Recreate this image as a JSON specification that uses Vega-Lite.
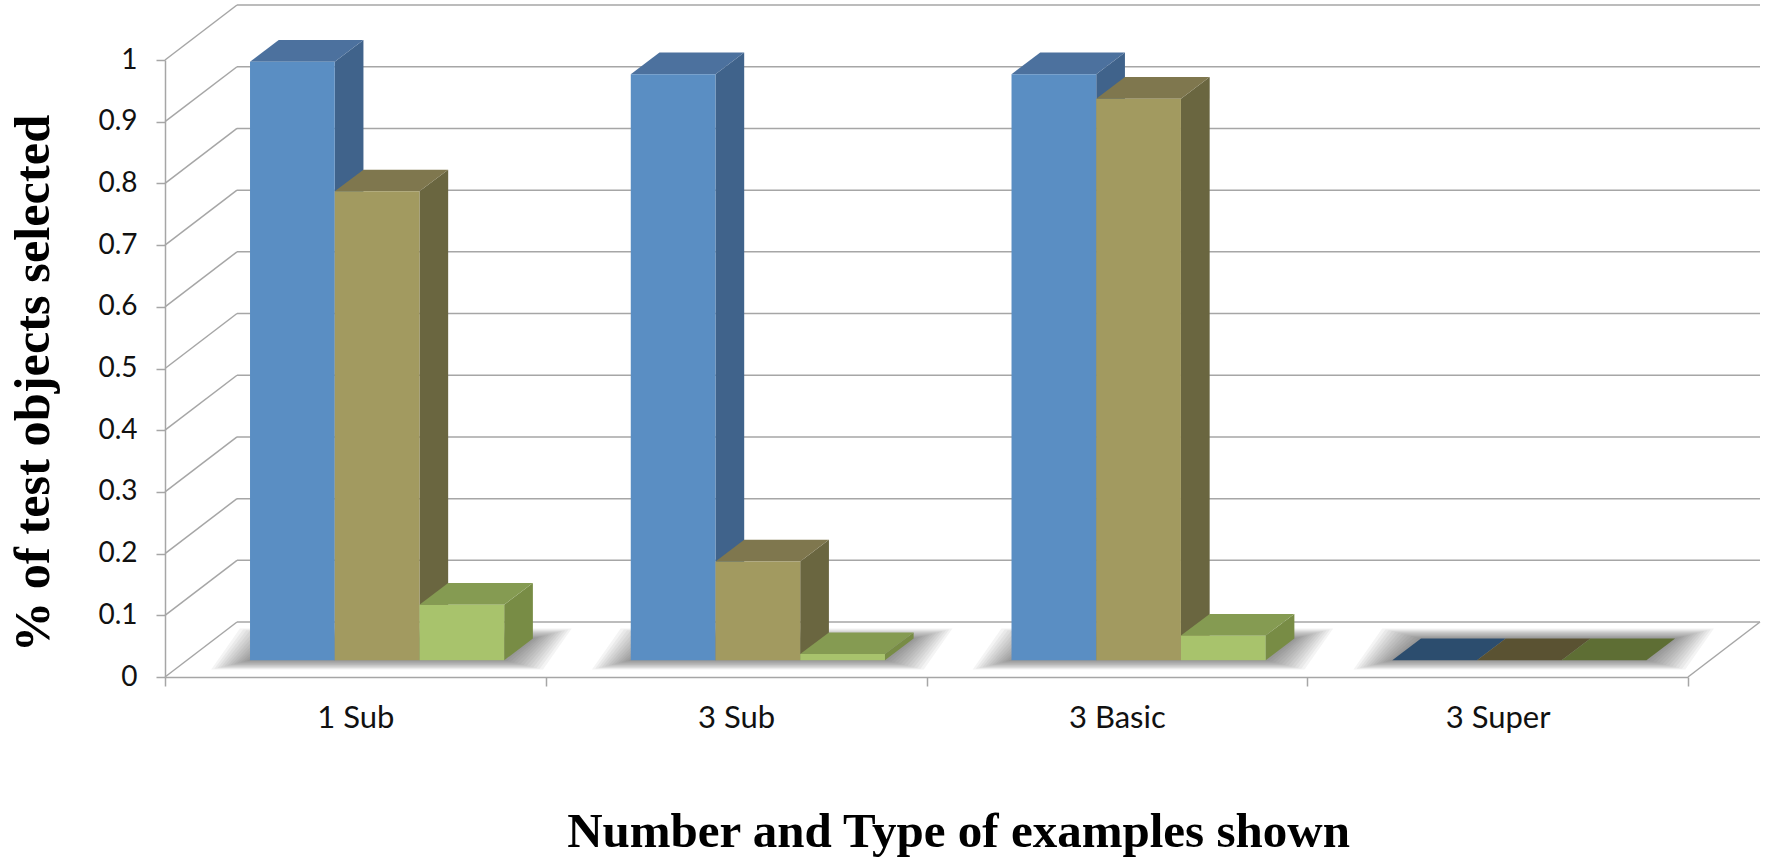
{
  "$schema": "https://vega.github.io/schema/vega-lite/v6.json",
  "autosize": {"type": "none"},
  "padding": {"left": 165, "top": 60, "right": 81, "bottom": 180},
  "width": 1523,
  "height": 617,
  "background": "white",
  "config": {"view": {"stroke": null}},
  "layer": [
    {
      "data": {"values": [{"v": 0}, {"v": 0.1}, {"v": 0.2}, {"v": 0.3}, {"v": 0.4}, {"v": 0.5}, {"v": 0.6}, {"v": 0.7}, {"v": 0.8}, {"v": 0.9}, {"v": 1}]},
      "transform": [
        {"calculate": "0", "as": "x0"},
        {"calculate": "0.1891", "as": "x1"},
        {"calculate": "datum.v + 0.0891", "as": "y1"}
      ],
      "mark": {"type": "rule", "color": "#a6a6a6", "strokeWidth": 1.5},
      "encoding": {
        "x": {
          "field": "x0", "type": "quantitative",
          "scale": {"domain": [0, 4], "nice": false, "zero": false},
          "axis": {
            "values": [0, 1, 2, 3, 4],
            "labelExpr": "datum.value < 4 ? ['1 Sub', '3 Sub', '3 Basic', '3 Super'][datum.value] : ''",
            "labelOffset": 190.35, "labelFlush": false, "labelBound": false, "labelOverlap": false,
            "labelFont": "Lato", "labelFontSize": 31, "labelColor": "#111111", "labelPadding": 17,
            "grid": false, "tickSize": 9, "tickColor": "#a6a6a6", "tickWidth": 1.5,
            "domainColor": "#a6a6a6", "domainWidth": 1.5,
            "title": "Number and Type of examples shown",
            "titleFont": "Liberation Serif", "titleFontSize": 49, "titleFontWeight": "bold", "titleColor": "black",
            "titleX": 793, "titleY": 169, "titleAnchor": "middle", "titleAlign": "center", "titleBaseline": "alphabetic"
          }
        },
        "x2": {"field": "x1"},
        "y": {
          "field": "v", "type": "quantitative",
          "scale": {"domain": [0, 1], "nice": false, "zero": false},
          "axis": {
            "values": [0, 0.1, 0.2, 0.3, 0.4, 0.5, 0.6, 0.7, 0.8, 0.9, 1],
            "format": ".1~f",
            "labelFont": "Lato", "labelFontSize": 28, "labelColor": "#111111", "labelPadding": 19,
            "grid": false, "tickSize": 9, "tickColor": "#a6a6a6", "tickWidth": 1.5,
            "domainColor": "#a6a6a6", "domainWidth": 1.5,
            "title": "% of test objects selected",
            "titleFont": "Liberation Serif", "titleFontSize": 50.4, "titleFontWeight": "bold", "titleColor": "black",
            "titleX": -117, "titleY": 323, "titleAngle": -90, "titleAnchor": "middle", "titleAlign": "center", "titleBaseline": "alphabetic"
          }
        },
        "y2": {"field": "y1"}
      }
    },
    {
      "data": {"values": [{"v": 0}, {"v": 0.1}, {"v": 0.2}, {"v": 0.3}, {"v": 0.4}, {"v": 0.5}, {"v": 0.6}, {"v": 0.7}, {"v": 0.8}, {"v": 0.9}, {"v": 1}]},
      "transform": [
        {"calculate": "0.1891", "as": "x0"},
        {"calculate": "4.1891", "as": "x1"},
        {"calculate": "datum.v + 0.0891", "as": "y0"}
      ],
      "mark": {"type": "rule", "color": "#a6a6a6", "strokeWidth": 1.5},
      "encoding": {
        "x": {"field": "x0", "type": "quantitative", "scale": {"domain": [0, 4], "nice": false, "zero": false}},
        "x2": {"field": "x1"},
        "y": {"field": "y0", "type": "quantitative", "scale": {"domain": [0, 1], "nice": false, "zero": false}}
      }
    },
    {
      "data": {"values": [{"edge": 4}]},
      "transform": [
        {"calculate": "datum.edge + 0.1891", "as": "x1"},
        {"calculate": "0", "as": "y0"},
        {"calculate": "0.0891", "as": "y1"}
      ],
      "mark": {"type": "rule", "color": "#a6a6a6", "strokeWidth": 1.5},
      "encoding": {
        "x": {"field": "edge", "type": "quantitative", "scale": {"domain": [0, 4], "nice": false, "zero": false}},
        "x2": {"field": "x1"},
        "y": {"field": "y0", "type": "quantitative", "scale": {"domain": [0, 1], "nice": false, "zero": false}},
        "y2": {"field": "y1"}
      }
    },
    {
      "data": {
        "values": [
          {"category": "1 Sub", "series": "Subordinate", "value": 0.97},
          {"category": "1 Sub", "series": "Basic", "value": 0.76},
          {"category": "1 Sub", "series": "Superordinate", "value": 0.09},
          {"category": "3 Sub", "series": "Subordinate", "value": 0.95},
          {"category": "3 Sub", "series": "Basic", "value": 0.16},
          {"category": "3 Sub", "series": "Superordinate", "value": 0.01},
          {"category": "3 Basic", "series": "Subordinate", "value": 0.95},
          {"category": "3 Basic", "series": "Basic", "value": 0.91},
          {"category": "3 Basic", "series": "Superordinate", "value": 0.04},
          {"category": "3 Super", "series": "Subordinate", "value": 0},
          {"category": "3 Super", "series": "Basic", "value": 0},
          {"category": "3 Super", "series": "Superordinate", "value": 0}
        ]
      },
      "transform": [
        {"calculate": "indexof(['1 Sub', '3 Sub', '3 Basic', '3 Super'], datum.category)", "as": "group"},
        {"calculate": "indexof(['Subordinate', 'Basic', 'Superordinate'], datum.series)", "as": "slot"},
        {"calculate": "datum.group + 0.2233 + datum.slot * 0.2225", "as": "left"},
        {"calculate": "datum.left + 0.2225", "as": "right"},
        {"calculate": "0.0271", "as": "base"},
        {"calculate": "datum.base + datum.value", "as": "top"},
        {"calculate": "datum.category + datum.series", "as": "bar"}
      ],
      "layer": [
        {
          "transform": [
            {"filter": "datum.slot === 0"},
            {"calculate": "[1, 2, 3, 4, 5, 6, 7, 8, 9, 10, 11, 12]", "as": "ring"},
            {"flatten": ["ring"]},
            {"calculate": "[0, 1]", "as": "t"},
            {"flatten": ["t"]},
            {"calculate": "datum.t === 0 ? datum.base - datum.ring * 0.00125 : datum.base + 0.0352 + datum.ring * 0.00135", "as": "sy"},
            {"calculate": "datum.left + datum.t * 0.0754 - datum.ring * 0.0085", "as": "sx"},
            {"calculate": "datum.left + 0.6675 + datum.t * 0.0754 + datum.ring * 0.0085", "as": "sx2"},
            {"calculate": "datum.category + datum.ring", "as": "halo"}
          ],
          "mark": {"type": "area", "orient": "horizontal", "color": "#3a3a3a", "opacity": 0.055},
          "encoding": {
            "y": {"field": "sy", "type": "quantitative", "scale": {"domain": [0, 1], "nice": false, "zero": false}},
            "x": {"field": "sx", "type": "quantitative", "stack": null, "scale": {"domain": [0, 4], "nice": false, "zero": false}},
            "x2": {"field": "sx2"},
            "detail": {"field": "halo", "type": "nominal"}
          }
        },
        {
          "transform": [
            {"filter": "datum.value > 0"},
            {"calculate": "[0, 1]", "as": "t"},
            {"flatten": ["t"]},
            {"calculate": "datum.right + datum.t * 0.0754", "as": "fx"},
            {"calculate": "datum.base + datum.t * 0.0352", "as": "fy"},
            {"calculate": "datum.top + datum.t * 0.0352", "as": "fy2"},
            {"calculate": "'side ' + datum.series", "as": "shade"}
          ],
          "mark": {"type": "area", "orient": "vertical"},
          "encoding": {
            "x": {"field": "fx", "type": "quantitative", "scale": {"domain": [0, 4], "nice": false, "zero": false}},
            "y": {"field": "fy", "type": "quantitative", "stack": null, "scale": {"domain": [0, 1], "nice": false, "zero": false}},
            "y2": {"field": "fy2"},
            "detail": {"field": "bar", "type": "nominal"},
            "fill": {
              "field": "shade", "type": "nominal", "legend": null,
              "scale": {
                "domain": ["side Subordinate", "side Basic", "side Superordinate", "lid Subordinate", "lid Basic", "lid Superordinate", "floor Subordinate", "floor Basic", "floor Superordinate", "front Subordinate", "front Basic", "front Superordinate"],
                "range": ["#40638b", "#6a6640", "#788c45", "#4c719e", "#7f774e", "#859b52", "#2c4d6e", "#5a5232", "#5e6e34", "#5a8ec3", "#a29a60", "#a8c36c"]
              }
            }
          }
        },
        {
          "transform": [
            {"calculate": "[0, 1]", "as": "t"},
            {"flatten": ["t"]},
            {"calculate": "datum.top + datum.t * 0.0352", "as": "ty"},
            {"calculate": "datum.left + datum.t * 0.0754", "as": "tx"},
            {"calculate": "datum.right + datum.t * 0.0754", "as": "tx2"},
            {"calculate": "(datum.value > 0 ? 'lid ' : 'floor ') + datum.series", "as": "shade"}
          ],
          "mark": {"type": "area", "orient": "horizontal"},
          "encoding": {
            "y": {"field": "ty", "type": "quantitative", "scale": {"domain": [0, 1], "nice": false, "zero": false}},
            "x": {"field": "tx", "type": "quantitative", "stack": null, "scale": {"domain": [0, 4], "nice": false, "zero": false}},
            "x2": {"field": "tx2"},
            "detail": {"field": "bar", "type": "nominal"},
            "fill": {
              "field": "shade", "type": "nominal", "legend": null,
              "scale": {
                "domain": ["side Subordinate", "side Basic", "side Superordinate", "lid Subordinate", "lid Basic", "lid Superordinate", "floor Subordinate", "floor Basic", "floor Superordinate", "front Subordinate", "front Basic", "front Superordinate"],
                "range": ["#40638b", "#6a6640", "#788c45", "#4c719e", "#7f774e", "#859b52", "#2c4d6e", "#5a5232", "#5e6e34", "#5a8ec3", "#a29a60", "#a8c36c"]
              }
            }
          }
        },
        {
          "transform": [
            {"filter": "datum.value > 0"},
            {"calculate": "'front ' + datum.series", "as": "shade"}
          ],
          "mark": {"type": "rect"},
          "encoding": {
            "x": {"field": "left", "type": "quantitative", "scale": {"domain": [0, 4], "nice": false, "zero": false}},
            "x2": {"field": "right"},
            "y": {"field": "base", "type": "quantitative", "scale": {"domain": [0, 1], "nice": false, "zero": false}},
            "y2": {"field": "top"},
            "fill": {
              "field": "shade", "type": "nominal", "legend": null,
              "scale": {
                "domain": ["side Subordinate", "side Basic", "side Superordinate", "lid Subordinate", "lid Basic", "lid Superordinate", "floor Subordinate", "floor Basic", "floor Superordinate", "front Subordinate", "front Basic", "front Superordinate"],
                "range": ["#40638b", "#6a6640", "#788c45", "#4c719e", "#7f774e", "#859b52", "#2c4d6e", "#5a5232", "#5e6e34", "#5a8ec3", "#a29a60", "#a8c36c"]
              }
            }
          }
        }
      ]
    }
  ]
}
